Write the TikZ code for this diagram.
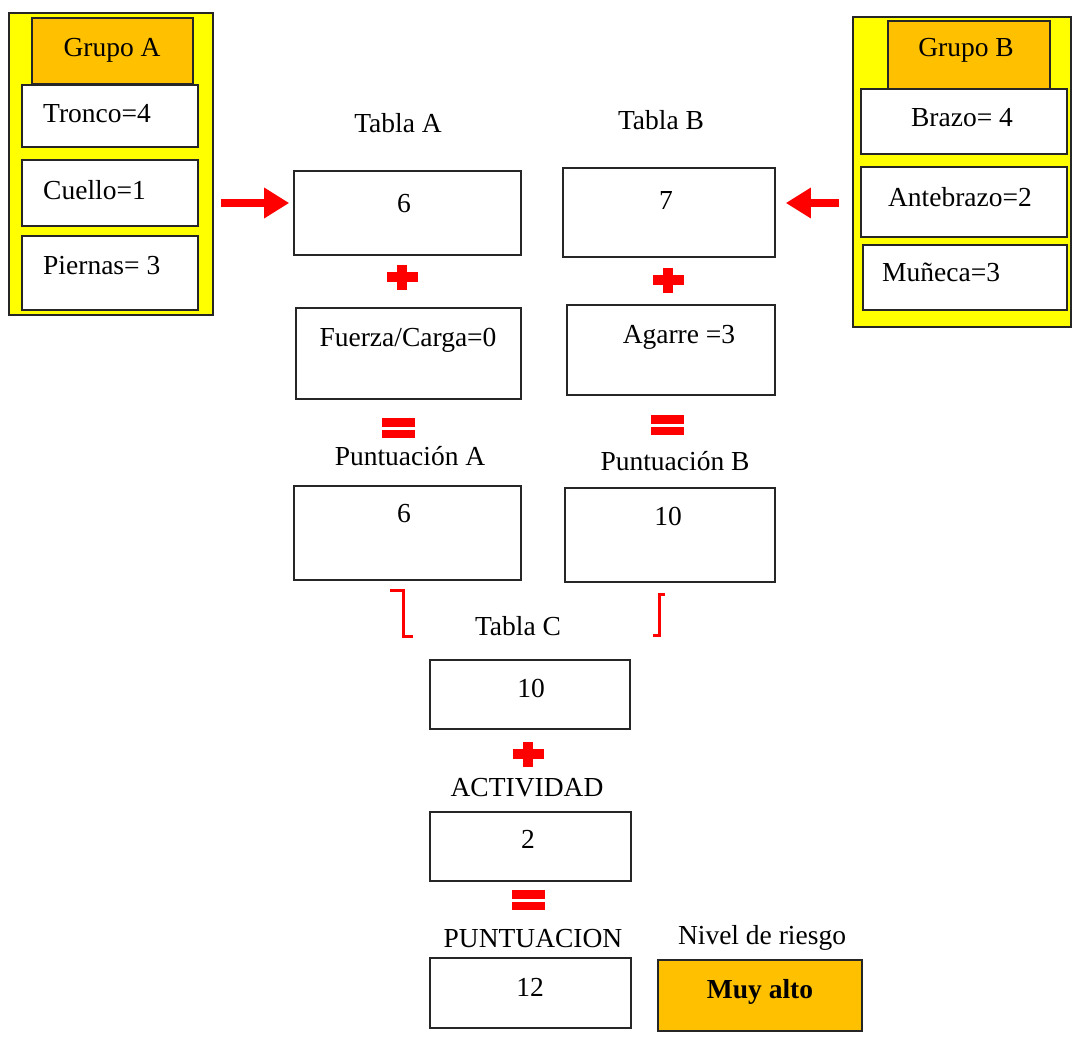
\documentclass[tikz,border=0pt]{standalone}
\usepackage{fontspec}
\setmainfont{Liberation Serif}
\usetikzlibrary{arrows.meta,fit}
\definecolor{grpyellow}{HTML}{FFFF00}
\definecolor{hdrorange}{HTML}{FFC000}
\definecolor{signred}{HTML}{FF0000}

\begin{document}
\begin{tikzpicture}[x=1pt,y=-1pt,
  frame/.style={draw=black!85, line width=1.6pt, inner sep=0pt},
  cell/.style={frame, fill=white},
  txt/.style={font=\fontsize{27.5}{32}\selectfont, inner sep=0pt, anchor=base, yshift=-9.5pt, text=black},
  ltxt/.style={txt, anchor=base west},
  redarrow/.style={signred, line width=8pt, -{Triangle[length=25pt,width=29pt]}},
  bracket/.style={signred, line width=3pt},
  pics/plussign/.style={code={
    \fill[signred] (-15.5,-5) rectangle (15.5,5);
    \fill[signred] (-5,-12.5) rectangle (5,12.5);}},
  pics/eqsign/.style={code={
    \fill[signred] (-16.5,-10) rectangle (16.5,-1.5);
    \fill[signred] (-16.5,1.5) rectangle (16.5,10);}},
]
\useasboundingbox (0,0) rectangle (1073,1043);

% Grupo A
\node[frame, fill=grpyellow, fit={(9,13) (213,315)}] (grpA) {};
\node[frame, fill=hdrorange, fit={(32,18) (193,84)}] (hdrA) {};
\node[cell, fit={(22,85) (198,147)}] (tronco) {};
\node[cell, fit={(22,160) (198,226)}] (cuello) {};
\node[cell, fit={(22,236) (198,310)}] (piernas) {};
\node[txt] (hdrAt) at (112,47) {Grupo A};
\node[ltxt] (troncot) at (43,113) {Tronco=4};
\node[ltxt] (cuellot) at (43,190) {Cuello=1};
\node[ltxt] (piernast) at (43,265) {Piernas= 3};

% Grupo B
\node[frame, fill=grpyellow, fit={(853,17) (1071,327)}] (grpB) {};
\node[frame, fill=hdrorange, fit={(888,21) (1050,89)}] (hdrB) {};
\node[cell, fit={(861,89) (1067,154)}] (brazo) {};
\node[cell, fit={(861,167) (1067,237)}] (antebrazo) {};
\node[cell, fit={(863,245) (1067,310)}] (muneca) {};
\node[txt] (hdrBt) at (966,47) {Grupo B};
\node[txt] (brazot) at (962,117) {Brazo= 4};
\node[txt] (antebrazot) at (960,197) {Antebrazo=2};
\node[ltxt] (munecat) at (882,272) {Muñeca=3};

% Tablas A y B
\node[txt] (tAlbl) at (398,123) {Tabla A};
\node[txt] (tBlbl) at (661,120) {Tabla B};
\node[cell, fit={(294,171) (521,255)}] (tA) {};
\node[cell, fit={(563,168) (775,257)}] (tB) {};
\node[txt] (tAv) at (404,203) {6};
\node[txt] (tBv) at (666,200) {7};

% Flechas de entrada
\coordinate (ay) at (0,203);
\draw[redarrow, shorten <=7pt, shorten >=4pt] (grpA.east |- ay) -- (tA.west |- ay);
\draw[redarrow, shorten <=13pt, shorten >=10pt] (grpB.west |- ay) -- (tB.east |- ay);

\pic at (402,277) {plussign};
\pic at (668,280) {plussign};

% Fuerza y agarre
\node[cell, fit={(296,308) (521,399)}] (fuerza) {};
\node[cell, fit={(567,305) (775,395)}] (agarre) {};
\node[txt] (fuerzat) at (408,337) {Fuerza/Carga=0};
\node[txt] (agarret) at (679,334) {Agarre =3};

\pic at (398,428) {eqsign};
\pic at (667,425) {eqsign};

% Puntuaciones A y B
\node[txt] (pAlbl) at (410,456) {Puntuación A};
\node[txt] (pBlbl) at (675,461) {Puntuación B};
\node[cell, fit={(294,486) (521,580)}] (pA) {};
\node[cell, fit={(565,488) (775,582)}] (pB) {};
\node[txt] (pAv) at (404,513) {6};
\node[txt] (pBv) at (668,516) {10};

% Corchetes hacia la tabla C
\draw[bracket] (390,590) -- (403,590) -- (403,636) -- (413,636);
\draw[bracket] (665,594) -- (659,594) -- (659,635) -- (653,635);

% Tabla C
\node[txt] (tClbl) at (518,626) {Tabla C};
\node[cell, fit={(430,660) (630,729)}] (tC) {};
\node[txt] (tCv) at (531,688) {10};

\pic at (528,754) {plussign};

% Actividad
\node[txt] (actlbl) at (527,787) {ACTIVIDAD};
\node[cell, fit={(430,812) (631,881)}] (act) {};
\node[txt] (actv) at (528,839) {2};

\pic at (528,900) {eqsign};

% Puntuacion final y nivel de riesgo
\node[txt] (scorelbl) at (533,938) {PUNTUACION};
\node[cell, fit={(430,958) (631,1028)}] (score) {};
\node[txt] (scorev) at (530,987) {12};
\node[txt] (risklbl) at (762,935) {Nivel de riesgo};
\node[frame, fill=hdrorange, fit={(658,960) (862,1031)}] (risk) {};
\node[txt, font=\fontsize{27.5}{32}\selectfont\bfseries] (riskv) at (760,989) {Muy alto};
\end{tikzpicture}
\end{document}
